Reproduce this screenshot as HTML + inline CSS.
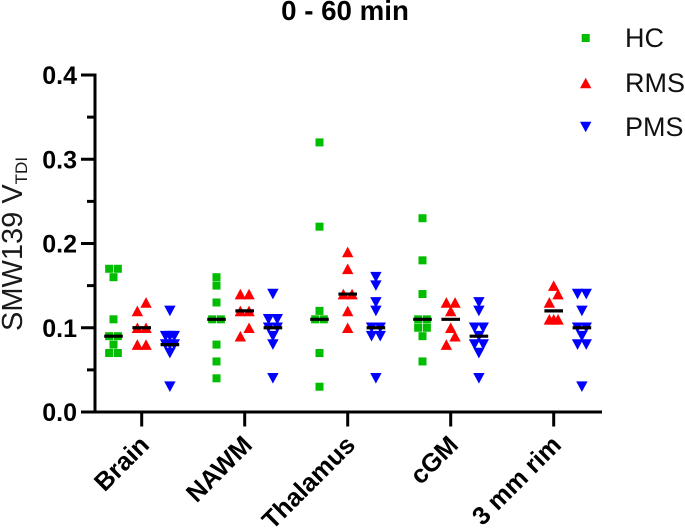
<!DOCTYPE html>
<html lang="en">
<head>
<meta charset="utf-8">
<title>0 - 60 min</title>
<style>
html,body{margin:0;padding:0;background:#fff;width:685px;height:529px;overflow:hidden}
svg{display:block;font-family:"Liberation Sans",Arial,sans-serif}
</style>
</head>
<body>
<svg id="chart" width="685" height="529" viewBox="0 0 685 529" xmlns="http://www.w3.org/2000/svg">
  <text x="345" y="20" text-anchor="middle" font-size="27.7" font-weight="700" fill="#000">0 - 60 min</text>
  <text transform="translate(22,331) rotate(-90)" font-size="29" fill="#1a1a1a">SMW139 V<tspan font-size="17" dy="5">TDI</tspan></text>
  <g id="axes"></g>
  <g id="marks"></g>
  <g id="legend">
    <g>
      <rect x="581.7" y="34" width="8" height="8" fill="#00bd00"></rect>
      <text x="625" y="47" font-size="27" fill="#111">HC</text>
    </g>
    <g>
      <polygon points="585.7,77.7 591.4,88.3 580,88.3" fill="#ff0000"></polygon>
      <text x="625" y="92" font-size="27" fill="#111">RMS</text>
    </g>
    <g>
      <polygon points="580,121.7 591.4,121.7 585.7,132.3" fill="#0000ff"></polygon>
      <text x="625" y="136" font-size="27" fill="#111">PMS</text>
    </g>
  </g>
</svg>
<script>
var categories = ['Brain', 'NAWM', 'Thalamus', 'cGM', '3 mm rim'];
var yTickLabels = ['0.0', '0.1', '0.2', '0.3', '0.4'];
var yTickValues = [0, 0.1, 0.2, 0.3, 0.4];
var yMinorTickValues = [0.05, 0.15, 0.25, 0.35];

var hcValues = [
  [0.17, 0.17, 0.16, 0.11, 0.09, 0.09, 0.08, 0.07, 0.07],
  [0.16, 0.15, 0.13, 0.11, 0.11, 0.08, 0.06, 0.04],
  [0.32, 0.22, 0.12, 0.11, 0.11, 0.07, 0.03],
  [0.23, 0.18, 0.14, 0.11, 0.11, 0.10, 0.10, 0.09, 0.06],
  []
];
var rmsValues = [
  [0.13, 0.12, 0.10, 0.10, 0.08, 0.08],
  [0.14, 0.14, 0.12, 0.12, 0.10, 0.09],
  [0.19, 0.17, 0.14, 0.14, 0.12, 0.10],
  [0.13, 0.13, 0.12, 0.10, 0.09, 0.08],
  [0.15, 0.14, 0.13, 0.11, 0.11, 0.11]
];
var pmsValues = [
  [0.12, 0.09, 0.09, 0.09, 0.08, 0.08, 0.08, 0.07, 0.03],
  [0.14, 0.11, 0.11, 0.10, 0.10, 0.09, 0.08, 0.04],
  [0.16, 0.15, 0.13, 0.12, 0.10, 0.10, 0.09, 0.09, 0.04],
  [0.13, 0.12, 0.10, 0.10, 0.09, 0.08, 0.08, 0.07, 0.04],
  [0.14, 0.14, 0.12, 0.10, 0.10, 0.09, 0.08, 0.08, 0.03]
];

var NS = 'http://www.w3.org/2000/svg';
var axesGroup = document.getElementById('axes');
var marksGroup = document.getElementById('marks');

function yScale(v) { return 412 - v * 842.5; }
function xScale(i) { return 141.7 + i * 103; }

function make(tag, parent, attrs) {
  var el = document.createElementNS(NS, tag);
  for (var k in attrs) el.setAttribute(k, attrs[k]);
  parent.appendChild(el);
  return el;
}

function median(list) {
  var s = list.slice().sort(function (a, b) { return a - b; });
  var n = s.length;
  return n % 2 ? s[(n - 1) / 2] : (s[n / 2 - 1] + s[n / 2]) / 2;
}

/* Swarm layout: tied values spread symmetrically; optionally runs of neighbouring
   single values are split to both sides so their wide markers do not overlap. */
function swarm(list, splitRuns) {
  var sorted = list.slice().sort(function (a, b) { return b - a; });
  var bins = [];
  sorted.forEach(function (v) {
    var last = bins[bins.length - 1];
    if (last && Math.abs(last.v - v) < 1e-9) last.n++;
    else bins.push({ v: v, n: 1 });
  });
  var out = [];
  for (var b = 0; b < bins.length; b++) {
    var bin = bins[b];
    if (bin.n > 1) {
      var gap = bin.n === 2 ? 8.7 : 4.35;
      for (var i = 0; i < bin.n; i++) out.push({ v: bin.v, dx: (i - (bin.n - 1) / 2) * gap });
      continue;
    }
    var run = [bin];
    while (splitRuns && bins[b + run.length] && bins[b + run.length].n === 1 &&
           Math.abs(run[run.length - 1].v - bins[b + run.length].v - 0.01) < 1e-6) {
      run.push(bins[b + run.length]);
    }
    if (run.length === 1) out.push({ v: bin.v, dx: 0 });
    else {
      var start = 0;
      if (run.length % 2) { out.push({ v: run[0].v, dx: 0 }); start = 1; }
      for (var r = start; r < run.length; r++) {
        out.push({ v: run[r].v, dx: (r - start) % 2 === 0 ? 4.35 : -4.35 });
      }
    }
    b += run.length - 1;
  }
  return out;
}

function drawSquare(parent, x, y) {
  return make('rect', parent, { x: x - 4, y: y - 4, width: 8, height: 8, fill: '#00bd00' });
}
function drawUp(parent, x, y) {
  return make('polygon', parent, { points: x + ',' + (y - 5.3) + ' ' + (x + 5.7) + ',' + (y + 5.3) + ' ' + (x - 5.7) + ',' + (y + 5.3), fill: '#ff0000' });
}
function drawDown(parent, x, y) {
  return make('polygon', parent, { points: (x - 5.7) + ',' + (y - 5.3) + ' ' + (x + 5.7) + ',' + (y - 5.3) + ' ' + x + ',' + (y + 5.3), fill: '#0000ff' });
}

/* Axes */
var yAxisLine = make('line', axesGroup, { x1: 95, x2: 95, y1: yScale(0.4) - 1.5, y2: yScale(0) + 1.5, stroke: '#000', 'stroke-width': 3 });


var xAxisLine = make('line', axesGroup, { x1: 81, x2: 602, y1: yScale(0), y2: yScale(0), stroke: '#000', 'stroke-width': 3 });



yTickValues.forEach(function (v, i) {
  var tick = make('line', axesGroup, { x1: 81, x2: 95, y1: yScale(v), y2: yScale(v), stroke: '#000', 'stroke-width': 3 });
  
  
  var label = make('text', axesGroup, { x: 77, y: yScale(v) + 9, 'text-anchor': 'end', 'font-size': 25, 'font-weight': 700, fill: '#000' });
  
  
  label.textContent = yTickLabels[i];
});
yMinorTickValues.forEach(function (v) {
  var tick = make('line', axesGroup, { x1: 87, x2: 95, y1: yScale(v), y2: yScale(v), stroke: '#000', 'stroke-width': 3 });
  
  
});
categories.forEach(function (c, i) {
  var x = xScale(i);
  var tick = make('line', axesGroup, { x1: x, x2: x, y1: 412, y2: 426.5, stroke: '#000', 'stroke-width': 3 });
  
  
  var label = make('text', axesGroup, { 'text-anchor': 'end', 'font-size': 25.5, 'font-weight': 700, fill: '#000', transform: 'translate(' + (x + 9) + ',446.5) rotate(-45)' });
  
  
  label.textContent = c;
});

/* Series */
function drawSeries(values, offset, drawMark, key, splitRuns) {
  values.forEach(function (list, i) {
    if (!list.length) return;
    var g = make('g', marksGroup, {});
    
    
    var cx = xScale(i) + offset;
    swarm(list, splitRuns).forEach(function (p) {
      var mark = drawMark(g, cx + p.dx, yScale(p.v));
      
      
    });
  });
}
function drawMedians(values, offset, key) {
  values.forEach(function (list, i) {
    if (!list.length) return;
    var cx = xScale(i) + offset;
    var y = yScale(median(list));
    var line = make('line', marksGroup, { x1: cx - 9.3, x2: cx + 9.3, y1: y, y2: y, stroke: '#000', 'stroke-width': 3.2 });
    
    
  });
}

drawSeries(hcValues, -28.2, drawSquare, 'hc', false);
drawSeries(rmsValues, 0, drawUp, 'rms', true);
drawSeries(pmsValues, 28.2, drawDown, 'pms', false);
drawMedians(hcValues, -28.2, 'hc');
drawMedians(rmsValues, 0, 'rms');
drawMedians(pmsValues, 28.2, 'pms');
</script>
</body>
</html>
